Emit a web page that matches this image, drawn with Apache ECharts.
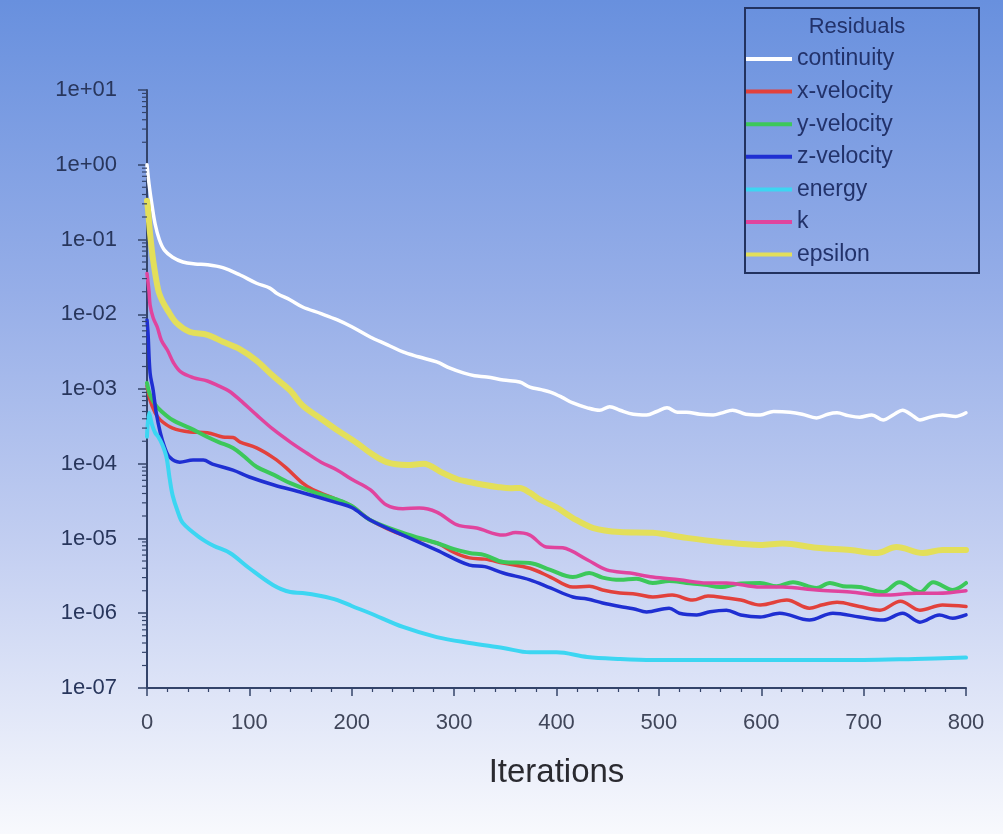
<!DOCTYPE html>
<html><head><meta charset="utf-8">
<script src="https://cdn.jsdelivr.net/npm/echarts@6/dist/echarts.min.js"></script>
<style>html,body{margin:0;padding:0;background:#fff}#c{width:1003px;height:834px}</style>
</head><body><div id="c"></div>
<script>
// ---- data ----
const seriesNames = ['continuity','x-velocity','y-velocity','z-velocity','energy','k','epsilon'];
const yTickLabels = ['1e-07','1e-06','1e-05','1e-04','1e-03','1e-02','1e-01','1e+00','1e+01'];
const xTickValues = [0,100,200,300,400,500,600,700,800];

const continuity = [[0,1.0],[2,0.55],[5,0.28],[8,0.16],[12,0.1],[17,0.072],[25,0.058],[35,0.05],[47,0.047],[59,0.046],[74,0.042],[91,0.0335],[107,0.026],[120,0.0224],[127,0.019],[140,0.0155],[152,0.0125],[170,0.0102],[186,0.0084],[200,0.0068],[218,0.00497],[235,0.0039],[250,0.00313],[265,0.0027],[283,0.0023],[296,0.0019],[309,0.00164],[320,0.0015],[332,0.00145],[348,0.00132],[364,0.00124],[374,0.00106],[385,0.00098],[394,0.00091],[405,0.00078],[416,0.00065],[430,0.00056],[442,0.00052],[452,0.00058],[462,0.00052],[475,0.00046],[488,0.00045],[498,0.0005],[508,0.00056],[518,0.00049],[527,0.00049],[540,0.00046],[553,0.00045],[562,0.00048],[572,0.00052],[585,0.00046],[599,0.00045],[612,0.0005],[628,0.00049],[640,0.00046],[654,0.00041],[665,0.00046],[674,0.00048],[685,0.00044],[696,0.00042],[708,0.00045],[719,0.000385],[730,0.00046],[738,0.00052],[748,0.00044],[755,0.000385],[765,0.00042],[777,0.00045],[790,0.00043],[800,0.00048]];

const xVelocity = [[0,1.1e-3],[3,7.1e-4],[8,4.8e-4],[13,3.85e-4],[25,3.0e-4],[42,2.66e-4],[59,2.6e-4],[74,2.28e-4],[84,2.24e-4],[91,1.95e-4],[107,1.63e-4],[124,1.19e-4],[136,8.8e-5],[152,5.5e-5],[162,4.5e-5],[186,3.3e-5],[200,2.72e-5],[218,1.77e-5],[250,1.11e-5],[283,8.7e-6],[300,6.5e-6],[315,5.5e-6],[330,5.3e-6],[348,4.7e-6],[374,4.0e-6],[394,3.05e-6],[416,2.24e-6],[432,2.3e-6],[445,2.05e-6],[462,1.87e-6],[478,1.8e-6],[494,1.65e-6],[513,1.75e-6],[533,1.5e-6],[548,1.7e-6],[566,1.6e-6],[580,1.5e-6],[599,1.29e-6],[625,1.5e-6],[647,1.17e-6],[660,1.3e-6],[674,1.4e-6],[696,1.23e-6],[716,1.1e-6],[736,1.45e-6],[755,1.1e-6],[777,1.29e-6],[800,1.23e-6]];

const yVelocity = [[0,1.2e-3],[3,8.3e-4],[8,6.2e-4],[13,5.2e-4],[25,3.85e-4],[42,3.0e-4],[59,2.28e-4],[70,1.95e-4],[84,1.63e-4],[95,1.25e-4],[107,9.1e-5],[124,7.1e-5],[140,5.5e-5],[162,4.2e-5],[186,3.3e-5],[200,2.72e-5],[218,1.77e-5],[250,1.19e-5],[283,8.7e-6],[300,7.2e-6],[315,6.4e-6],[330,6.0e-6],[348,4.85e-6],[374,4.7e-6],[394,3.8e-6],[416,3.05e-6],[432,3.45e-6],[445,3.0e-6],[462,2.8e-6],[478,2.9e-6],[494,2.54e-6],[510,2.7e-6],[527,2.54e-6],[545,2.4e-6],[560,2.24e-6],[580,2.5e-6],[599,2.54e-6],[615,2.3e-6],[631,2.6e-6],[654,2.17e-6],[667,2.54e-6],[680,2.3e-6],[696,2.24e-6],[719,1.92e-6],[735,2.6e-6],[755,1.92e-6],[768,2.6e-6],[787,2.05e-6],[800,2.54e-6]];

const zVelocity = [[0,8.4e-3],[1,5.6e-3],[3,1.64e-3],[6,9.7e-4],[9,4.8e-4],[13,2.6e-4],[17,1.7e-4],[22,1.23e-4],[32,1.05e-4],[45,1.12e-4],[55,1.12e-4],[64,9.9e-5],[84,8.2e-5],[100,6.65e-5],[124,5.2e-5],[152,4.1e-5],[186,3.0e-5],[200,2.6e-5],[218,1.77e-5],[250,1.11e-5],[283,7.0e-6],[315,4.4e-6],[330,4.2e-6],[348,3.45e-6],[374,2.8e-6],[394,2.18e-6],[416,1.65e-6],[430,1.55e-6],[445,1.37e-6],[462,1.23e-6],[475,1.15e-6],[488,1.04e-6],[510,1.17e-6],[520,1.0e-6],[537,9.5e-7],[550,1.05e-6],[566,1.1e-6],[580,9.5e-7],[599,8.9e-7],[618,1.0e-6],[647,8.1e-7],[670,1.0e-6],[696,8.9e-7],[719,8.1e-7],[738,1.0e-6],[755,7.6e-7],[774,9.5e-7],[787,8.6e-7],[800,9.5e-7]];

const energy = [[0,2.3e-4],[2,4.8e-4],[5,3.3e-4],[8,2.6e-4],[11,2.3e-4],[15,1.8e-4],[19,1.23e-4],[22,6.5e-5],[25,3.8e-5],[30,2.3e-5],[35,1.61e-5],[52,1.02e-5],[65,8.0e-6],[81,6.4e-6],[100,4.0e-6],[123,2.39e-6],[140,1.92e-6],[152,1.87e-6],[170,1.7e-6],[186,1.5e-6],[200,1.25e-6],[218,1.0e-6],[250,6.55e-7],[283,4.8e-7],[315,4.0e-7],[348,3.43e-7],[374,3.0e-7],[400,3.0e-7],[430,2.6e-7],[460,2.45e-7],[494,2.37e-7],[600,2.37e-7],[700,2.37e-7],[750,2.45e-7],[800,2.55e-7]];

const kResid = [[0,0.035],[2,0.02],[3,0.0133],[6,0.009],[10,0.00675],[14,0.0045],[20,0.0033],[26,0.00223],[33,0.00169],[45,0.00142],[59,0.00128],[70,0.0011],[80,9.4e-4],[91,7.1e-4],[107,4.5e-4],[124,2.83e-4],[140,1.95e-4],[156,1.39e-4],[170,1.05e-4],[186,8.2e-5],[200,6.2e-5],[218,4.5e-5],[234,2.8e-5],[250,2.5e-5],[266,2.56e-5],[283,2.26e-5],[303,1.52e-5],[322,1.38e-5],[348,1.11e-5],[360,1.2e-5],[374,1.11e-5],[390,7.7e-6],[406,7.5e-6],[430,5.2e-6],[449,3.8e-6],[472,3.45e-6],[494,3.05e-6],[520,2.8e-6],[547,2.54e-6],[566,2.54e-6],[599,2.24e-6],[621,2.24e-6],[654,2.05e-6],[687,1.92e-6],[719,1.75e-6],[752,1.85e-6],[772,1.85e-6],[800,2.0e-6]];

const epsilon = [[0,0.33],[1,0.25],[3,0.12],[6,0.053],[11,0.021],[15,0.015],[20,0.0114],[29,0.0076],[42,0.0058],[59,0.0053],[74,0.0043],[91,0.0034],[107,0.0024],[123,0.0015],[140,9.5e-4],[152,6.0e-4],[170,4.0e-4],[186,2.8e-4],[205,1.9e-4],[218,1.4e-4],[234,1.05e-4],[254,9.6e-5],[270,1.0e-4],[289,7.5e-5],[303,6.2e-5],[315,5.7e-5],[330,5.2e-5],[342,4.9e-5],[355,4.7e-5],[364,4.75e-5],[374,4.1e-5],[384,3.3e-5],[400,2.6e-5],[416,1.88e-5],[436,1.38e-5],[462,1.22e-5],[494,1.19e-5],[527,1.02e-5],[560,9.0e-6],[599,8.2e-6],[621,8.6e-6],[654,7.5e-6],[687,7.0e-6],[713,6.4e-6],[732,7.7e-6],[758,6.4e-6],[777,7.0e-6],[800,7.0e-6]];

const seriesData = [continuity, xVelocity, yVelocity, zVelocity, energy, kResid, epsilon];
const seriesColors = ['#ffffff','#e2413c','#3cc85a','#1f2fd2','#3cd6f2','#e0449e','#e3df5a'];
const seriesWidths = [3.5, 3.5, 4, 3.5, 4, 3.5, 6];

// ---- axis decoration: log minor tick positions (2..9 within each decade) ----
const yMinorTicks = [];
for (let e = -7; e < 1; e++) for (let m = 2; m <= 9; m++) yMinorTicks.push([0, m * Math.pow(10, e)]);

const axisColor = '#34446a';
const fontFam = 'Liberation Sans, Arial, sans-serif';
const chart = echarts.init(document.getElementById('c'), null, {renderer: 'canvas'});

const lineSeries = seriesNames.map((n, i) => ({
  name: n, type: 'line', data: seriesData[i], showSymbol: false, symbol: 'none',
  smooth: 0.35,
  lineStyle: {color: seriesColors[i], width: seriesWidths[i], cap: 'round', join: 'round'},
  itemStyle: {color: seriesColors[i]},
  z: 3 + i
}));

chart.setOption({
  animation: false,
  backgroundColor: {type: 'linear', x: 0, y: 0, x2: 0, y2: 1, colorStops: [
    {offset: 0, color: '#6890de'}, {offset: 0.35, color: '#96aee8'},
    {offset: 0.65, color: '#c2cef1'}, {offset: 1, color: '#f8f9fd'}]},
  grid: {left: 147, right: 37, top: 90, bottom: 146},
  legend: {
    data: seriesNames, orient: 'vertical', left: 746, top: 47.5, padding: 0,
    icon: 'rect', itemWidth: 46, itemHeight: 4, itemGap: 9.6,
    selectedMode: false,
    textStyle: {color: '#22326a', fontSize: 23, lineHeight: 23, fontFamily: fontFam}
  },
  graphic: [
    {type: 'rect', left: 744, top: 7, shape: {width: 234, height: 265},
     style: {fill: 'transparent', stroke: '#22325f', lineWidth: 2}, z: 10},
    {type: 'text', x: 857, y: 27, style: {text: 'Residuals', fill: '#22326a', fontSize: 22,
     fontFamily: fontFam, textAlign: 'center', textVerticalAlign: 'middle'}, z: 10}
  ],
  xAxis: {
    type: 'value', min: 0, max: 800, interval: 100,
    name: 'Iterations', nameLocation: 'middle', nameGap: 68,
    nameTextStyle: {color: '#2a2a30', fontSize: 33, fontFamily: fontFam},
    axisLine: {show: true, onZero: false, lineStyle: {color: axisColor, width: 2}},
    axisTick: {show: true, length: 8, lineStyle: {color: axisColor, width: 1.5}},
    minorTick: {show: true, splitNumber: 5, length: 4, lineStyle: {color: axisColor, width: 1.2}},
    axisLabel: {margin: 24, color: '#40465a', fontSize: 22, fontFamily: fontFam,
      formatter: v => xTickValues.indexOf(v) >= 0 ? String(v) : ''},
    splitLine: {show: false}
  },
  yAxis: {
    type: 'log', logBase: 10, min: 1e-7, max: 10, splitNumber: 8,
    axisLine: {show: true, onZero: false, lineStyle: {color: axisColor, width: 2}},
    axisTick: {show: true, length: 9, lineStyle: {color: axisColor, width: 1.5}},
    axisLabel: {margin: 30, color: '#28365c', fontSize: 22, fontFamily: fontFam,
      formatter: v => yTickLabels[Math.round(Math.log10(v)) + 7] || ''},
    splitLine: {show: false}
  },
  series: lineSeries.concat([{
    type: 'custom', name: 'minorTicks', silent: true, clip: false, z: 20,
    data: yMinorTicks, encode: {x: 0, y: 1},
    renderItem: (params, api) => {
      const p = api.coord([0, api.value(1)]);
      return {type: 'line', shape: {x1: p[0] - 5, y1: p[1], x2: p[0], y2: p[1]},
        style: {stroke: axisColor, lineWidth: 1.2}};
    }
  }])
});
</script>
</body></html>
